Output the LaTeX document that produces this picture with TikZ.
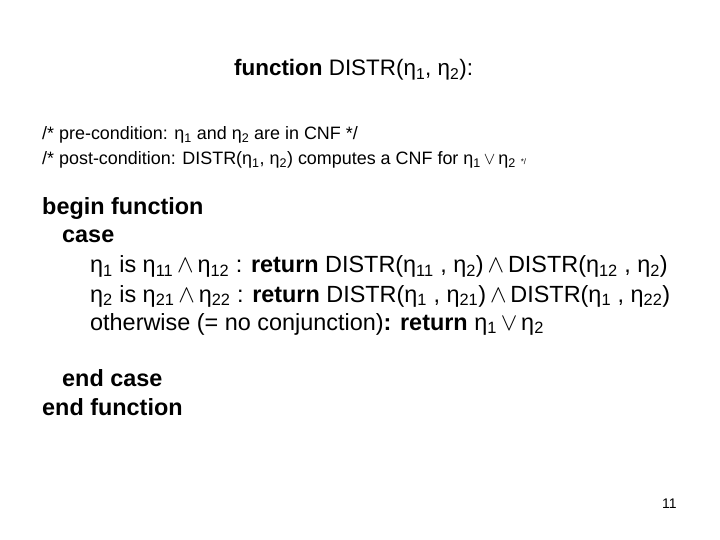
\documentclass[tikz,border=0pt]{standalone}
\usepackage{fontspec}
\setmainfont{Liberation Sans}
\newcommand\sub[1]{\textsubscript{#1}}
\newcommand\conj{\,$\wedge$\,}
\newcommand\disj{\,$\vee$\,}
\begin{document}
\begin{tikzpicture}[x=1bp,y=-1bp,
    line/.style={anchor=base west,inner sep=0pt},
    title/.style={line,font=\fontsize{22.5}{26}\selectfont},
    note/.style={line,font=\fontsize{18}{21}\selectfont},
    body/.style={line,font=\fontsize{23.5}{27}\selectfont}]
  \useasboundingbox (0,0) rectangle (720,540);

  % heading and comments
  \node[title] (head) at (234,76) {\textbf{function} DISTR(η\sub{1}, η\sub{2}):};
  \node[note] (pre) at (42,140) {/* pre-condition: η\sub{1} and η\sub{2} are in CNF */};
  \node[note] (post) at (42,165) {/* post-condition: DISTR(η\sub{1}, η\sub{2}) computes a CNF for η\sub{1}\disj η\sub{2} {\footnotesize */}};

  % body
  \node[body] (begin) at (42,215) {\textbf{begin function}};
  \node[body] (case) at (62,243) {\textbf{case}};
  \node[body] (c1) at (90,273) {η\sub{1} is η\sub{11}\conj η\sub{12} : \textbf{return} DISTR(η\sub{11} , η\sub{2})\conj DISTR(η\sub{12} , η\sub{2})};
  \node[body] (c2) at (90,302) {η\sub{2} is η\sub{21}\conj η\sub{22} : \textbf{return} DISTR(η\sub{1} , η\sub{21})\conj DISTR(η\sub{1} , η\sub{22})};
  \node[body] (c3) at (90,330) {otherwise (= no conjunction)\textbf{: return} η\sub{1}\disj η\sub{2}};
  \node[body] (endcase) at (62,386) {\textbf{end case}};
  \node[body] (endfun) at (42,415) {\textbf{end function}};

  \node[line,font=\fontsize{14}{16}\selectfont] (page) at (662,508) {11};
\end{tikzpicture}
\end{document}
